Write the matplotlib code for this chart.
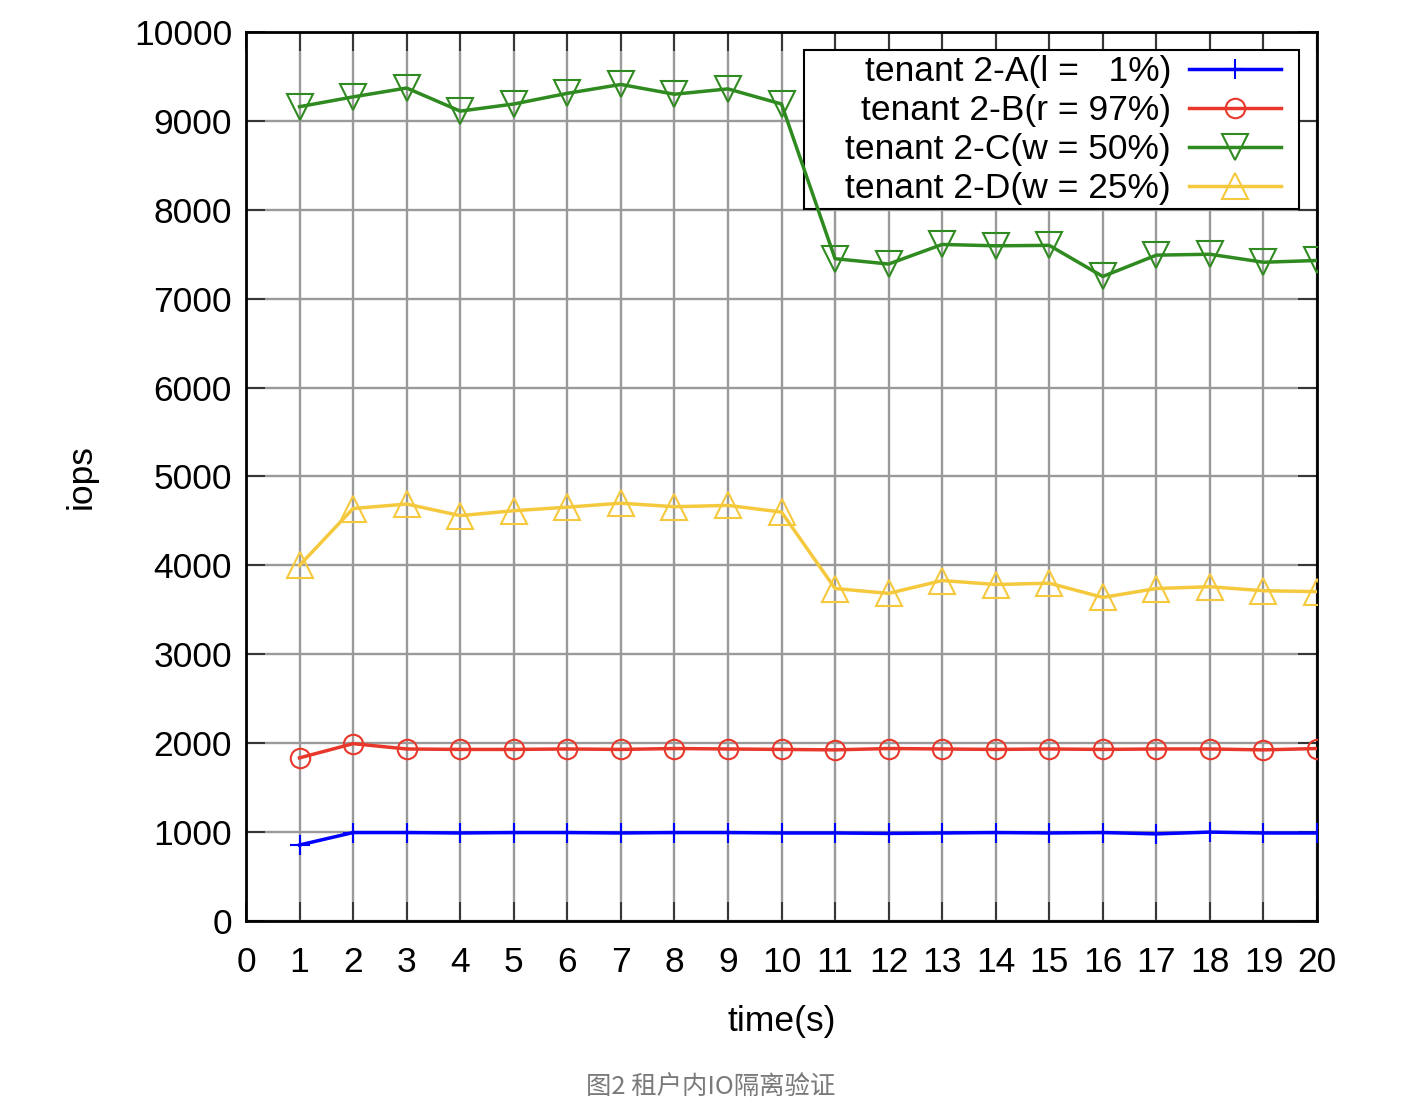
import matplotlib
matplotlib.use("Agg")
import matplotlib.pyplot as plt
from matplotlib.patches import Rectangle

plt.rcParams['font.family'] = ['Liberation Sans', 'DejaVu Sans']

time_s = list(range(1, 21))
tenant_a = [855, 995, 995, 990, 995, 995, 990, 995, 995, 990, 990, 985, 990, 995, 990, 995, 980, 1000, 990, 990]
tenant_b = [1835, 1995, 1935, 1930, 1930, 1935, 1930, 1940, 1935, 1930, 1925, 1940, 1935, 1930, 1935, 1930, 1935, 1935, 1925, 1940]
tenant_c = [9160, 9270, 9370, 9110, 9190, 9310, 9410, 9300, 9360, 9190, 7450, 7390, 7610, 7595, 7600, 7250, 7490, 7500, 7410, 7430]
tenant_d = [4000, 4640, 4690, 4560, 4615, 4655, 4700, 4660, 4675, 4600, 3740, 3685, 3830, 3785, 3800, 3640, 3740, 3760, 3715, 3705]

labels = ["tenant 2-A(l =   1%)", "tenant 2-B(r = 97%)", "tenant 2-C(w = 50%)", "tenant 2-D(w = 25%)"]
x_ticks = list(range(0, 21))
y_ticks = list(range(0, 10001, 1000))
x_label = "time(s)"
y_label = "iops"
caption = "图2 租户内IO隔离验证"

W, H = 1404, 1120
fig = plt.figure(figsize=(W/100, H/100), dpi=100)
L, R, T, B = 246, 1317, 32, 921
ax = fig.add_axes([L/W, 1 - B/H, (R - L)/W, (B - T)/H])

lw = 2.5
mew = 1.5
ax.plot(time_s, tenant_a, color='#0000ff', lw=lw, marker='+', ms=15, mew=mew, label=labels[0], zorder=5)
ax.plot(time_s, tenant_b, color='#e8382c', lw=lw, marker='o', ms=14, mfc='none', mew=mew, label=labels[1], zorder=5)
ax.plot(time_s, tenant_c, color='#2f8a1f', lw=lw, marker='v', ms=19, mfc='none', mew=mew, label=labels[2], zorder=5)
ax.plot(time_s, tenant_d, color='#f5c93e', lw=lw, marker='^', ms=19, mfc='none', mew=mew, label=labels[3], zorder=5)

ax.set_xlim(0, 20)
ax.set_ylim(0, 10000)
ax.set_xticks(x_ticks)
ax.set_yticks(y_ticks)
ax.grid(True, color='#9a9a9a', lw=1.7)
ax.set_axisbelow(True)
ax.tick_params(axis='both', direction='in', length=14, width=1.2, color='#222222',
               labelsize=25.5, top=True, right=True)
ax.tick_params(axis='x', pad=18)
ax.tick_params(axis='y', pad=10)
for s in ax.spines.values():
    s.set_linewidth(2)
    s.set_color('black')

ax.set_xlabel(x_label, fontsize=25.5, labelpad=19)
ax.set_ylabel(y_label, fontsize=25.5, labelpad=26)

# legend frame (gnuplot-style box), drawn above the grid but below the data lines
box = Rectangle((804/W, 1 - 209/H), 495/W, 159/H, transform=fig.transFigure,
                facecolor='white', edgecolor='black', lw=1.5, zorder=3, clip_on=False)
ax.add_patch(box)

leg = ax.legend(loc='upper right', bbox_to_anchor=((1281 - L)/(R - L), (B - 55)/(B - T)),
                borderaxespad=0, borderpad=0, markerfirst=False, fontsize=25.5,
                handlelength=2.6, frameon=False, labelspacing=0.17, handletextpad=0.5)
leg.set_zorder(10)

fig.text(711/W, 1 - 1087/H, caption, ha='center', va='center', fontsize=18.3,
         color='#7a7a7a', family=['Noto Sans CJK SC', 'DejaVu Sans'])

fig.savefig("out.png", dpi=100)
